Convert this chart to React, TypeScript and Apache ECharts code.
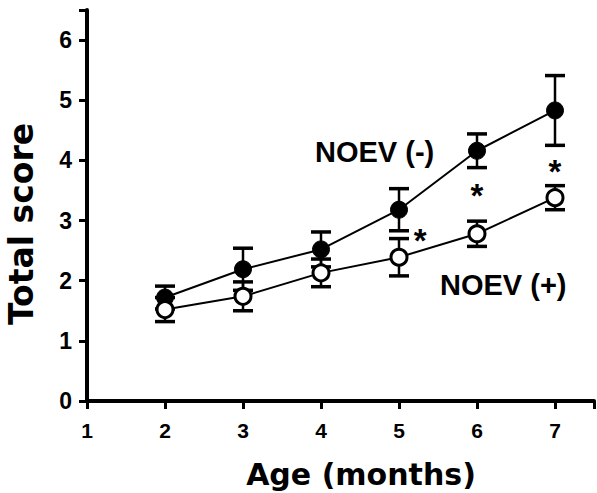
import React, { useEffect, useRef } from "react";
import * as echarts from "echarts";

const ages = [2, 3, 4, 5, 6, 7];
const noevMinus = [1.72, 2.19, 2.52, 3.18, 4.16, 4.83];
const noevMinusSE = [0.19, 0.35, 0.29, 0.35, 0.28, 0.58];
const noevPlus = [1.52, 1.74, 2.13, 2.39, 2.78, 3.38];
const noevPlusSE = [0.2, 0.24, 0.23, 0.31, 0.21, 0.2];
const starX = [5.27, 6, 7];
const starY = [2.83, 3.58, 3.98];
const xTicks = [1, 2, 3, 4, 5, 6, 7];
const yTicks = [0, 1, 2, 3, 4, 5, 6];

const FONT = "'Liberation Sans', Arial, sans-serif";
const WIDE = "'DejaVu Sans', sans-serif";

function errorSeries(vals: number[], se: number[], z: number) {
  return {
    type: "custom",
    z,
    silent: true,
    data: ages.map((a, i) => [a, vals[i] - se[i], vals[i] + se[i]]),
    renderItem: (_params: any, api: any) => {
      const x = api.value(0);
      const lo = api.coord([x, api.value(1)]);
      const hi = api.coord([x, api.value(2)]);
      const hw = 10;
      const style = { stroke: "#000", lineWidth: 2.5 };
      return {
        type: "group",
        children: [
          { type: "line", shape: { x1: lo[0], y1: lo[1], x2: hi[0], y2: hi[1] }, style },
          { type: "line", shape: { x1: lo[0] - hw, y1: lo[1], x2: lo[0] + hw, y2: lo[1] }, style: { stroke: "#000", lineWidth: 3.5 } },
          { type: "line", shape: { x1: hi[0] - hw, y1: hi[1], x2: hi[0] + hw, y2: hi[1] }, style: { stroke: "#000", lineWidth: 3.5 } },
        ],
      };
    },
  };
}

function starSeries() {
  return {
    type: "custom",
    z: 6,
    silent: true,
    data: starX.map((x, i) => [x, starY[i]]),
    renderItem: (_params: any, api: any) => {
      const p = api.coord([api.value(0), api.value(1)]);
      return {
        type: "text",
        x: p[0],
        y: p[1] + 10,
        style: {
          text: "*",
          font: `bold 33px ${FONT}`,
          fill: "#000",
          textAlign: "center",
          textVerticalAlign: "middle",
        },
      };
    },
  };
}

export default function App() {
  const ref = useRef<HTMLDivElement>(null);
  useEffect(() => {
    if (!ref.current) return;
    const chart = echarts.init(ref.current, null, { renderer: "svg" });
    chart.setOption({
      animation: false,
      backgroundColor: "#fff",
      grid: { left: 87, right: 0, top: 10, bottom: 92 },
      xAxis: {
        type: "value",
        min: 1,
        max: 7.5,
        interval: 1,
        axisLine: { lineStyle: { color: "#000", width: 4 } },
        axisTick: { length: 8, lineStyle: { color: "#000", width: 3 } },
        axisLabel: {
          fontFamily: FONT,
          fontWeight: "bold",
          fontSize: 21,
          color: "#000",
          margin: 19,
          formatter: (v: number) => (xTicks.includes(v) ? String(v) : ""),
        },
        splitLine: { show: false },
      },
      yAxis: {
        type: "value",
        min: 0,
        max: 6.5,
        interval: 1,
        axisLine: { lineStyle: { color: "#000", width: 4 } },
        axisTick: { length: 8, lineStyle: { color: "#000", width: 3 } },
        axisLabel: {
          fontFamily: FONT,
          fontWeight: "bold",
          fontSize: 23,
          color: "#000",
          margin: 15,
          formatter: (v: number) => (yTicks.includes(v) ? String(v) : ""),
        },
        splitLine: { show: false },
      },
      series: [
        errorSeries(noevMinus, noevMinusSE, 2),
        {
          type: "line",
          name: "NOEV (-)",
          z: 3,
          data: ages.map((a, i) => [a, noevMinus[i]]),
          symbol: "circle",
          symbolSize: 17,
          lineStyle: { color: "#000", width: 2 },
          itemStyle: { color: "#000", borderColor: "#000", borderWidth: 1 },
        },
        errorSeries(noevPlus, noevPlusSE, 4),
        {
          type: "line",
          name: "NOEV (+)",
          z: 5,
          data: ages.map((a, i) => [a, noevPlus[i]]),
          symbol: "circle",
          symbolSize: 16,
          lineStyle: { color: "#000", width: 2 },
          itemStyle: { color: "#fff", borderColor: "#000", borderWidth: 3 },
        },
        starSeries(),
      ],
      graphic: [
        {
          type: "text",
          x: 21,
          y: 224,
          rotation: Math.PI / 2,
          style: {
            text: "Total score",
            font: `bold 33px ${WIDE}`,
            fill: "#000",
            textAlign: "center",
            textVerticalAlign: "middle",
          },
        },
        {
          type: "text",
          x: 361,
          y: 474,
          style: {
            text: "Age (months)",
            font: `bold 30px ${WIDE}`,
            fill: "#000",
            textAlign: "center",
            textVerticalAlign: "middle",
          },
        },
        {
          type: "text",
          x: 315,
          y: 152,
          style: { text: "NOEV (-)", font: `bold 29px ${FONT}`, fill: "#000", textAlign: "left", textVerticalAlign: "middle" },
        },
        {
          type: "text",
          x: 440,
          y: 285,
          style: { text: "NOEV (+)", font: `bold 29px ${FONT}`, fill: "#000", textAlign: "left", textVerticalAlign: "middle" },
        },
      ],
    });
    return () => chart.dispose();
  }, []);
  return (
    <div
      ref={ref}
      style={{ position: "fixed", left: 0, top: 0, width: 597, height: 493, background: "#fff" }}
    />
  );
}
